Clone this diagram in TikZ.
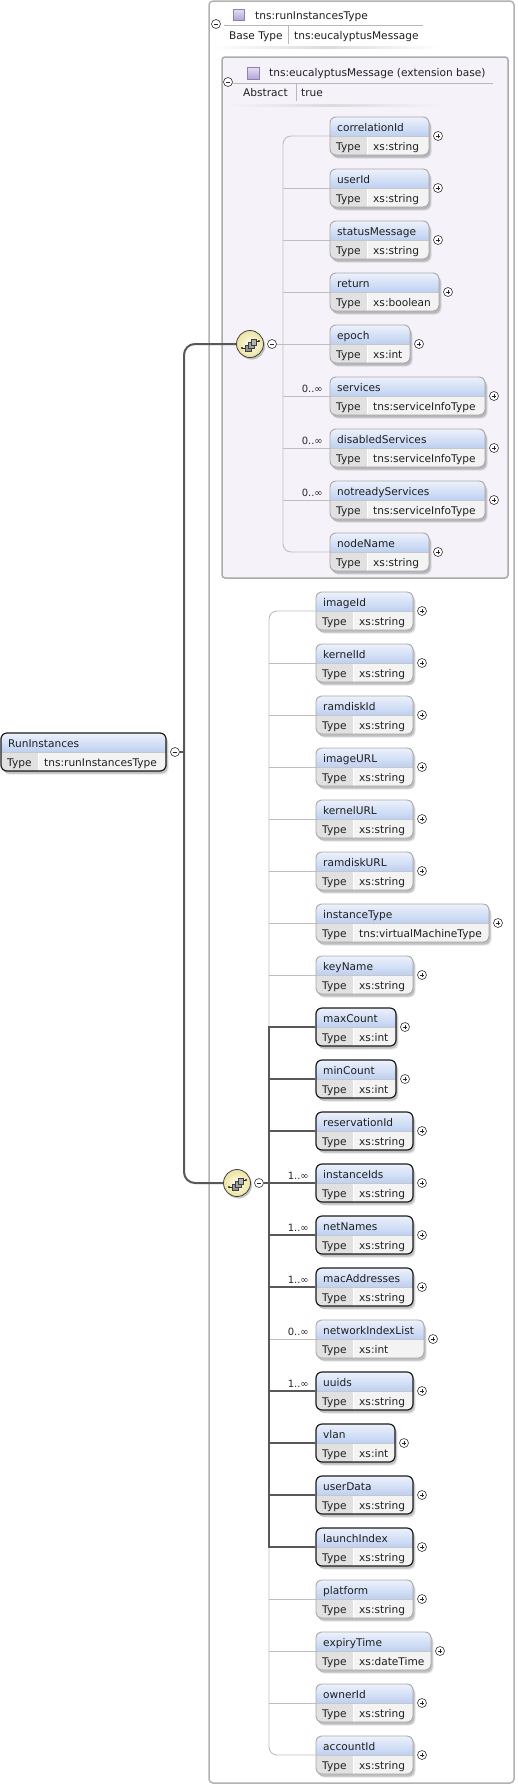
\documentclass[tikz,border=0pt]{standalone}
\usepackage{fontspec}
\setmainfont{DejaVu Sans}
\usetikzlibrary{calc}
\definecolor{hdtop}{HTML}{EDF2FC}
\definecolor{hdbot}{HTML}{BED0F1}
\definecolor{typec}{HTML}{E1E1E1}
\definecolor{valc}{HTML}{F3F3F3}
\definecolor{optb}{HTML}{A8A8A8}
\definecolor{reqb}{HTML}{1C1C1C}
\definecolor{treel}{HTML}{BEBEBE}
\definecolor{treed}{HTML}{585858}
\definecolor{innerbg}{HTML}{F5F3F9}
\definecolor{boxb}{HTML}{ABABAB}
\definecolor{lav1}{HTML}{E6DFF4}
\definecolor{lav2}{HTML}{B4A5D4}
\definecolor{lav3}{HTML}{8F80B5}
\definecolor{seq1}{HTML}{FFFDEB}
\definecolor{seq2}{HTML}{EDE2A2}
\tikzset{
  lbl/.style={font=\fontsize{10.6}{12}\selectfont, text=black!88, inner sep=0pt, anchor=base west},
  card/.style={font=\fontsize{10}{12}\selectfont, text=black!85, inner sep=0pt, anchor=base east},
  elbox0/.style={draw=optb, line width=0.9pt},
  elbox1/.style={draw=reqb, line width=1.2pt},
  thinl/.style={draw=treel, line width=0.9pt},
  thickl/.style={draw=treed, line width=2pt},
  mainl/.style={draw=treed, line width=2pt},
  faint/.style={left color=white, right color=white, middle color=black!14},
  faintin/.style={left color=innerbg, right color=innerbg, middle color=black!14},
}
\newcommand\xsdPlus[3]{%
  \node[circle, draw=black!80, fill=white, line width=0.6pt, minimum size=9pt, inner sep=0pt] (#1) at (#2,#3) {};
  \draw[black!85, line width=0.6pt] ([xshift=-2.3pt]#1.center) -- ([xshift=2.3pt]#1.center)
    ([yshift=-2.3pt]#1.center) -- ([yshift=2.3pt]#1.center);
}
\newcommand\xsdMinus[3]{%
  \node[circle, draw=black!80, fill=white, line width=0.6pt, minimum size=9pt, inner sep=0pt] (#1) at (#2,#3) {};
  \draw[black!85, line width=0.7pt] ([xshift=-2.3pt]#1.center) -- ([xshift=2.3pt]#1.center);
}
\newcommand\xsdEl[8]{% id, x, top, w, label, type, req, marker
  \fill[black, opacity=0.16, rounded corners=6] (#2+1.5,#3+2.5) rectangle ++(#4,38);
  \fill[black, opacity=0.10, rounded corners=6] (#2+2.5,#3+3.5) rectangle ++(#4,38);
  \begin{scope}
    \clip[rounded corners=6] (#2,#3) rectangle ++(#4,38);
    \shade[top color=hdtop, bottom color=hdbot] (#2,#3) rectangle ++(#4,19);
    \fill[typec] (#2,#3+19) rectangle ++(37,19);
    \fill[valc] (#2+37,#3+19) rectangle (#2+#4,#3+38);
  \end{scope}
  \draw[white, line width=0.9pt] (#2+37,#3+19) -- ++(0,19);
  \draw[black!22, line width=0.5pt] (#2,#3+19) -- ++(#4,0);
  \node[elbox#7, rounded corners=6, minimum width=#4pt, minimum height=38pt, inner sep=0pt] (#1) at (#2+#4/2,#3+19) {};
  \node[lbl] (#1n) at (#2+7,#3+14) {#5};
  \node[lbl] (#1k) at (#2+6,#3+33) {Type};
  \node[lbl] (#1v) at (#2+43,#3+33) {#6};
  #8{#1p}{#2+#4+9}{#3+19}
}
\newcommand\xsdSeq[3]{%
  \fill[black, opacity=0.22] (#2+1.5,#3+2) circle (13.5pt);
  \node[circle, draw=black!75, line width=0.8pt, inner color=seq1, outer color=seq2, minimum size=27pt, inner sep=0pt] (#1) at (#2,#3) {};
  \begin{scope}[shift={(#2,#3)}]
    \draw[black!85, line width=0.6pt] (-8,4) -- (-4,4);
    \fill[black!85] (-8,4) circle (1.1pt);
    \draw[black!75, fill=black!42, line width=0.5pt] (-5,1) rectangle (1,7);
    \draw[black!75, fill=black!36, line width=0.5pt] (-2,-2) rectangle (4,4);
    \draw[black!75, fill=black!30, line width=0.5pt] (1,-5) rectangle (6,1);
    \draw[black!85, line width=0.6pt] (6,-3) -- (9,-3);
    \fill[black!85] (9,-3) circle (1.1pt);
  \end{scope}
}
\begin{document}
\begin{tikzpicture}[x=1pt,y=-1pt]
\useasboundingbox (0,0) rectangle (517,1786);
\fill[white] (0,0) rectangle (517,1786);

% outer complex type box
\draw[black!30, fill=white, line width=1.5pt, rounded corners=4] (209,1) rectangle (514,1783);
\xsdMinus{om}{216}{24}
\shade[top color=lav1, bottom color=lav2, draw=lav3, line width=0.5pt] (233,9) rectangle (244,20);
\node[lbl] (otitle) at (255,19.5) {tns:runInstancesType};
\draw[black!28, line width=0.6pt] (224,25) -- (423,25);
\node[lbl] (obase) at (229,39.5) {Base Type};
\draw[black!28, line width=0.6pt] (288,26) -- (288,44);
\node[lbl] (obasev) at (294,39.5) {tns:eucalyptusMessage};
\shade[faint] (213,46.5) rectangle (440,48);

% inner extension base box
\draw[boxb, fill=innerbg, line width=1.5pt, rounded corners=3] (222,57) rectangle (508,578);
\xsdMinus{im}{228}{82}
\shade[top color=lav1, bottom color=lav2, draw=lav3, line width=0.5pt] (247,67) rectangle (259,79);
\node[lbl] (ititle) at (269,76.5) {tns:eucalyptusMessage (extension base)};
\draw[black!28, line width=0.6pt] (232,83) -- (493,83);
\node[lbl] (iabs) at (243,96.5) {Abstract};
\draw[black!28, line width=0.6pt] (296,84) -- (296,101);
\node[lbl] (iabsv) at (301,96.5) {true};
\shade[faintin] (225,104.5) rectangle (440,106);

% root element
\xsdEl{root}{1}{733}{165}{RunInstances}{tns:runInstancesType}{1}{\xsdMinus}

% first sequence (eucalyptusMessage)
\xsdEl{a0}{330}{117}{99}{correlationId}{xs:string}{0}{\xsdPlus}
\xsdEl{a1}{330}{169}{99}{userId}{xs:string}{0}{\xsdPlus}
\xsdEl{a2}{330}{221}{99}{statusMessage}{xs:string}{0}{\xsdPlus}
\xsdEl{a3}{330}{273}{109}{return}{xs:boolean}{0}{\xsdPlus}
\xsdEl{a4}{330}{325}{80}{epoch}{xs:int}{0}{\xsdPlus}
\xsdEl{a5}{330}{377}{155}{services}{tns:serviceInfoType}{0}{\xsdPlus}
\xsdEl{a6}{330}{429}{155}{disabledServices}{tns:serviceInfoType}{0}{\xsdPlus}
\xsdEl{a7}{330}{481}{155}{notreadyServices}{tns:serviceInfoType}{0}{\xsdPlus}
\xsdEl{a8}{330}{533}{99}{nodeName}{xs:string}{0}{\xsdPlus}

% second sequence
\xsdEl{b0}{316}{592}{97}{imageId}{xs:string}{0}{\xsdPlus}
\xsdEl{b1}{316}{644}{97}{kernelId}{xs:string}{0}{\xsdPlus}
\xsdEl{b2}{316}{696}{97}{ramdiskId}{xs:string}{0}{\xsdPlus}
\xsdEl{b3}{316}{748}{97}{imageURL}{xs:string}{0}{\xsdPlus}
\xsdEl{b4}{316}{800}{97}{kernelURL}{xs:string}{0}{\xsdPlus}
\xsdEl{b5}{316}{852}{97}{ramdiskURL}{xs:string}{0}{\xsdPlus}
\xsdEl{b6}{316}{904}{173}{instanceType}{tns:virtualMachineType}{0}{\xsdPlus}
\xsdEl{b7}{316}{956}{97}{keyName}{xs:string}{0}{\xsdPlus}
\xsdEl{b8}{316}{1008}{80}{maxCount}{xs:int}{1}{\xsdPlus}
\xsdEl{b9}{316}{1060}{80}{minCount}{xs:int}{1}{\xsdPlus}
\xsdEl{b10}{316}{1112}{97}{reservationId}{xs:string}{1}{\xsdPlus}
\xsdEl{b11}{316}{1164}{97}{instanceIds}{xs:string}{1}{\xsdPlus}
\xsdEl{b12}{316}{1216}{97}{netNames}{xs:string}{1}{\xsdPlus}
\xsdEl{b13}{316}{1268}{97}{macAddresses}{xs:string}{1}{\xsdPlus}
\xsdEl{b14}{316}{1320}{108}{networkIndexList}{xs:int}{0}{\xsdPlus}
\xsdEl{b15}{316}{1372}{97}{uuids}{xs:string}{1}{\xsdPlus}
\xsdEl{b16}{316}{1424}{79}{vlan}{xs:int}{1}{\xsdPlus}
\xsdEl{b17}{316}{1476}{97}{userData}{xs:string}{1}{\xsdPlus}
\xsdEl{b18}{316}{1528}{97}{launchIndex}{xs:string}{1}{\xsdPlus}
\xsdEl{b19}{316}{1580}{97}{platform}{xs:string}{0}{\xsdPlus}
\xsdEl{b20}{316}{1632}{115}{expiryTime}{xs:dateTime}{0}{\xsdPlus}
\xsdEl{b21}{316}{1684}{97}{ownerId}{xs:string}{0}{\xsdPlus}
\xsdEl{b22}{316}{1736}{97}{accountId}{xs:string}{0}{\xsdPlus}

% compositors
\xsdSeq{c1}{250}{344}
\xsdMinus{c1m}{272}{344}
\xsdSeq{c2}{237}{1183}
\xsdMinus{c2m}{259}{1183}

% tree of first sequence
\coordinate (jamid) at (283,344);
\draw[thinl, rounded corners=8] (a0.west) -| (jamid) |- (a8.west);
\foreach \k in {1,...,7} {
  \coordinate (ja\k) at (283,{136+52*\k});
  \draw[thinl] (ja\k) -- (a\k.west);
}
\draw[thinl] (c1m.east) -- (jamid);

% tree of second sequence
\coordinate (jbmid) at (269,1183);
\draw[thinl, rounded corners=8] (b0.west) -| (jbmid) |- (b22.west);
\foreach \k in {0,...,22} {
  \coordinate (jb\k) at (269,{611+52*\k});
}
\foreach \k in {1,...,7,14,19,20,21} {
  \draw[thinl] (jb\k) -- (b\k.west);
}
\draw[thickl] (b8.west) -- (jb8) -- (jb18) -- (b18.west);
\foreach \k in {9,10,11,12,13,15,16,17} {
  \draw[thickl] (jb\k) -- (b\k.west);
}
\draw[thickl] (c2m.east) -- (jbmid);

% main connector
\coordinate (jm) at (184,752);
\draw[mainl, rounded corners=11] (c1.west) -| (jm) |- (c2.west);
\draw[mainl] (rootp.east) -- (jm);

% cardinalities
\node[card] (ka5) at (323,392.5) {0..∞};
\node[card] (ka6) at (323,444.5) {0..∞};
\node[card] (ka7) at (323,496.5) {0..∞};
\node[card] (kb11) at (309,1179.5) {1..∞};
\node[card] (kb12) at (309,1231.5) {1..∞};
\node[card] (kb13) at (309,1283.5) {1..∞};
\node[card] (kb14) at (309,1335.5) {0..∞};
\node[card] (kb15) at (309,1387.5) {1..∞};
\end{tikzpicture}
\end{document}
